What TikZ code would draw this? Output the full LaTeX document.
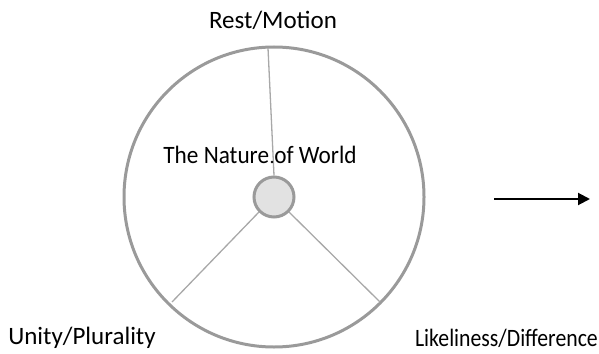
\documentclass[tikz,border=0pt]{standalone}
\usepackage{fontspec}
\setmainfont{Carlito}
\usetikzlibrary{arrows.meta}
\definecolor{rimgray}{HTML}{9A9A9A}
\definecolor{spokegray}{HTML}{A8A8A8}
\definecolor{hubfill}{HTML}{E2E2E2}
\begin{document}
\begin{tikzpicture}[x=1pt,y=-1pt,
  lbl/.style={font=\fontsize{25}{30}\selectfont, inner sep=0pt, anchor=center},
  rim/.style={draw=rimgray, line width=3pt},
  spoke/.style={draw=spokegray, line width=1.3pt},
  hub/.style={circle, draw=rimgray, fill=hubfill, line width=3pt, minimum size=40pt, inner sep=0pt}]
\useasboundingbox (0,0) rectangle (599,353);
\coordinate (c) at (274,197);
\draw[rim] (c) circle (150);
\node[hub] (h) at (c) {};
\coordinate (t) at (268,48);
\coordinate (l) at (172,302);
\coordinate (r) at (380,302);
\draw[spoke] (t) -- (h.north);
\draw[spoke] (l) -- (h.south west);
\draw[spoke] (r) -- (h.south east);
\node[lbl] (rm) at (273,20) {Rest/Motion};
\node[lbl] (nw) at (260,155) {\scalebox{0.93}[1]{The Nature of World}};
\node[lbl] (up) at (82,338) {Unity/Plurality};
\node[lbl, anchor=east] (ld) at (598,338) {\scalebox{0.87}[1]{Likeliness/Difference}};
\fill (272,162) circle (1.3);
\coordinate (a1) at (494,199);
\coordinate (a2) at (590,199);
\draw[line width=2pt, -{Triangle[length=12pt,width=12pt]}] (a1) -- (a2);
\end{tikzpicture}
\end{document}
